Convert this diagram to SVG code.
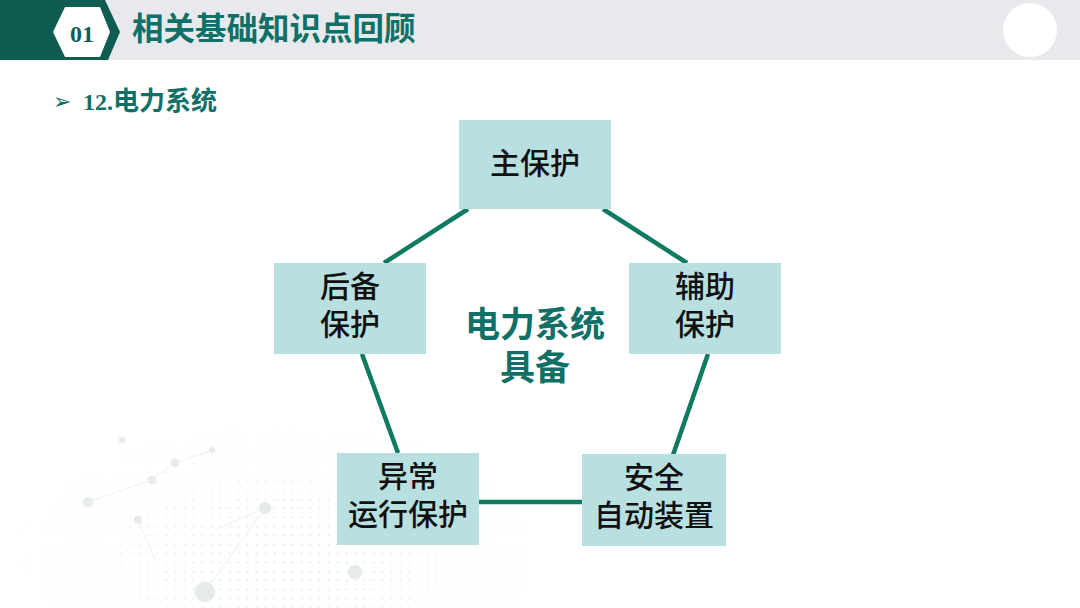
<svg xmlns="http://www.w3.org/2000/svg" width="1080" height="608" viewBox="0 0 1080 608">
<style>
.node rect{fill:#b9e0e1;}
.lbl{font-family:"Noto Sans CJK SC","Noto Sans",sans-serif;font-size:30px;font-weight:500;fill:#111;text-anchor:middle;}
.conn line{stroke:#0e7a62;stroke-width:4.5;stroke-linecap:butt;}
.teal{fill:#0f7068;}
</style>
<defs>
<pattern id="dots" width="9" height="9" patternUnits="userSpaceOnUse">
<circle cx="4.5" cy="4.5" r="1.1" fill="#dbe2e1"/>
</pattern>
<radialGradient id="fade" cx="0.5" cy="0.5" r="0.5">
<stop offset="0" stop-color="#fff" stop-opacity="1"/>
<stop offset="1" stop-color="#fff" stop-opacity="0"/>
</radialGradient>
<mask id="m">
<ellipse cx="280" cy="560" rx="290" ry="150" fill="url(#fade)"/>
</mask>
</defs>
<rect width="1080" height="608" fill="#fff"/>
<g id="bg-pattern" opacity="0.9">
<rect x="0" y="420" width="620" height="188" fill="url(#dots)" mask="url(#m)"/>
<g fill="#e3e9e7" stroke="#eaeeed" stroke-width="1">
<circle cx="88" cy="502" r="5"/>
<circle cx="138" cy="520" r="4"/>
<circle cx="265" cy="508" r="6"/>
<circle cx="205" cy="592" r="10"/>
<circle cx="355" cy="572" r="7"/>
<circle cx="175" cy="463" r="4"/>
<circle cx="152" cy="480" r="4"/>
<circle cx="122" cy="440" r="3"/>
<circle cx="212" cy="450" r="3"/>
<line x1="88" y1="502" x2="152" y2="480" fill="none"/>
<line x1="152" y1="480" x2="175" y2="463" fill="none"/>
<line x1="175" y1="463" x2="212" y2="450" fill="none"/>
<line x1="138" y1="520" x2="155" y2="560" fill="none"/>
<line x1="265" y1="508" x2="205" y2="592" fill="none"/>
<line x1="265" y1="508" x2="215" y2="530" fill="none"/>
</g>
</g>
<g id="header">
<rect x="0" y="0" width="1080" height="60" fill="#e8e9ec"/>
<polygon points="0,0 105,0 120,32 108,60 0,60" fill="#0f5c52"/>
<polygon points="53,32 65,7 100,7 110,32 100,57 65,57" fill="#fff"/>
<text x="82" y="42" font-family="Liberation Serif,serif" font-size="24" font-weight="bold" fill="#0f5c52" text-anchor="middle">01</text>
<text x="132" y="40" font-family="Noto Sans CJK SC,sans-serif" font-size="31.5" font-weight="bold" class="teal">相关基础知识点回顾</text>
<circle cx="1030" cy="30" r="27" fill="#fff"/>
</g>
<g id="subtitle">
<text x="53" y="109" font-family="DejaVu Sans,sans-serif" font-size="22" class="teal">➢</text>
<text x="83" y="110" font-family="Liberation Serif,Noto Sans CJK SC,serif" font-size="24" font-weight="bold" class="teal">12.<tspan font-family="Noto Sans CJK SC,sans-serif" font-size="26">电力系统</tspan></text>
</g>
<g id="connectors" class="conn">
<line x1="468" y1="209" x2="384" y2="263"/>
<line x1="603" y1="209" x2="687" y2="263"/>
<line x1="362" y1="354" x2="398" y2="453"/>
<line x1="708" y1="354" x2="673" y2="455"/>
<line x1="479" y1="502" x2="582" y2="502"/>
</g>
<g id="node-main" class="node">
<rect x="459" y="120" width="152" height="89"/>
<text class="lbl" x="535" y="174">主保护</text>
</g>
<g id="node-backup" class="node">
<rect x="274" y="263" width="152" height="91"/>
<text class="lbl" x="350" y="297">后备</text>
<text class="lbl" x="350" y="335">保护</text>
</g>
<g id="node-aux" class="node">
<rect x="629" y="263" width="152" height="91"/>
<text class="lbl" x="705" y="297">辅助</text>
<text class="lbl" x="705" y="335">保护</text>
</g>
<g id="node-abnormal" class="node">
<rect x="337" y="453" width="142" height="92"/>
<text class="lbl" x="408" y="487">异常</text>
<text class="lbl" x="408" y="525">运行保护</text>
</g>
<g id="node-safety" class="node">
<rect x="582" y="454" width="144" height="92"/>
<text class="lbl" x="654" y="488">安全</text>
<text class="lbl" x="654" y="526">自动装置</text>
</g>
<g id="center">
<text x="535" y="337" font-family="Noto Sans CJK SC,sans-serif" font-size="35" font-weight="bold" class="teal" text-anchor="middle">电力系统</text>
<text x="535" y="380" font-family="Noto Sans CJK SC,sans-serif" font-size="35" font-weight="bold" class="teal" text-anchor="middle">具备</text>
</g>
</svg>
